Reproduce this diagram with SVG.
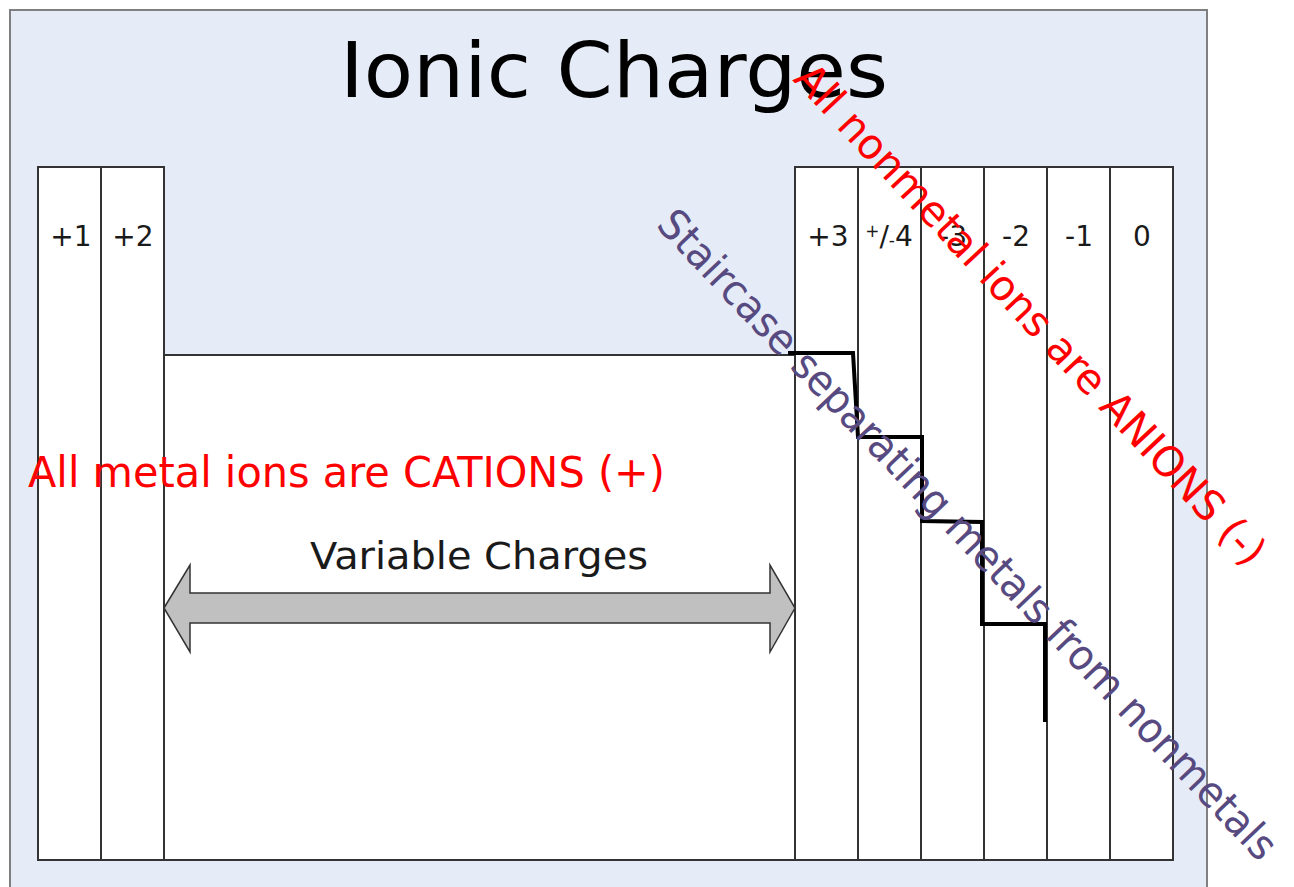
<svg xmlns="http://www.w3.org/2000/svg" width="1294" height="887" viewBox="0 0 1294 887">
<style>
.col{fill:#ffffff;stroke:#333333;stroke-width:2}
.lbl{font-family:"DejaVu Sans",Verdana,sans-serif;font-size:28px;fill:#1a1a1a;text-anchor:middle}
.hand{font-family:"DejaVu Sans",sans-serif;font-size:42px}
</style>
<rect width="1294" height="887" fill="#ffffff"/>
<g id="panel">
<rect x="10" y="10" width="1197" height="900" fill="#E6ECF7" stroke="#808080" stroke-width="2"/>
</g>
<g id="title">
<text x="614" y="97" font-family="DejaVu Sans,Verdana,sans-serif" font-size="76" fill="#000" text-anchor="middle" textLength="548" lengthAdjust="spacingAndGlyphs">Ionic Charges</text>
</g>
<g id="columns">
<rect id="col-p1" class="col" x="38" y="167" width="63" height="693"/>
<rect id="col-p2" class="col" x="101" y="167" width="63" height="693"/>
<rect id="transition" class="col" x="164" y="355" width="631" height="505"/>
<rect id="col-p3" class="col" x="795" y="167" width="63" height="693"/>
<rect id="col-pm4" class="col" x="858" y="167" width="63" height="693"/>
<rect id="col-m3" class="col" x="921" y="167" width="63" height="693"/>
<rect id="col-m2" class="col" x="984" y="167" width="63" height="693"/>
<rect id="col-m1" class="col" x="1047" y="167" width="63" height="693"/>
<rect id="col-0" class="col" x="1110" y="167" width="63" height="693"/>
</g>
<g id="labels">
<text class="lbl" x="71" y="246">+1</text>
<text class="lbl" x="133" y="246">+2</text>
<text class="lbl" x="828" y="246">+3</text>
<text class="lbl" x="889" y="246"><tspan font-size="17" dy="-9">+</tspan><tspan dy="9">/</tspan><tspan font-size="17">-</tspan><tspan>4</tspan></text>
<text class="lbl" x="953" y="246">-3</text>
<text class="lbl" x="1016" y="246">-2</text>
<text class="lbl" x="1079" y="246">-1</text>
<text class="lbl" x="1142" y="246">0</text>
</g>
<g id="variable-charges">
<polygon points="164,608 190,565 190,593 770,593 770,565 795,608 770,652 770,623 190,623 190,652" fill="#C0C0C0" stroke="#333333" stroke-width="1.5"/>
<text x="479" y="569" font-family="DejaVu Sans,Verdana,sans-serif" font-size="37" fill="#1a1a1a" text-anchor="middle" textLength="338" lengthAdjust="spacingAndGlyphs">Variable Charges</text>
</g>
<g id="connectors">
<polyline id="staircase" points="788,353 853,353 858,437 922,437 922,521 982,522 982,624 1045,624 1045,722" fill="none" stroke="#000" stroke-width="4" stroke-linejoin="miter"/>
</g>
<g id="annotations">
<text class="hand" x="28" y="487" fill="#FF0000" textLength="637" lengthAdjust="spacingAndGlyphs">All metal ions are CATIONS (+)</text>
<text class="hand" fill="#FF0000" transform="translate(792,80) rotate(47)" textLength="668" lengthAdjust="spacingAndGlyphs">All nonmetal ions are ANIONS (-)</text>
<text class="hand" fill="#574A80" transform="translate(655,226) rotate(46.5)" textLength="878" lengthAdjust="spacingAndGlyphs">Staircase separating metals from nonmetals</text>
</g>
</svg>
